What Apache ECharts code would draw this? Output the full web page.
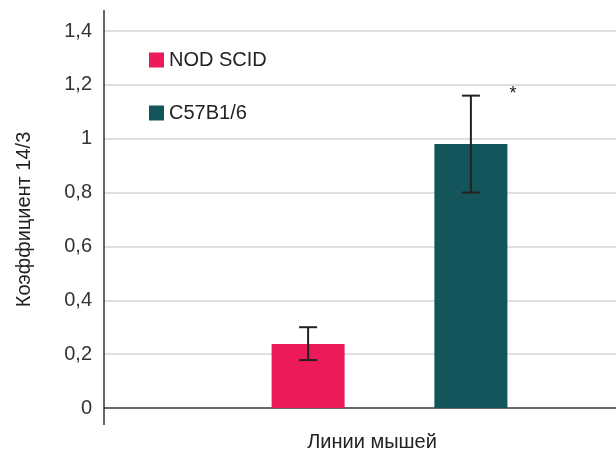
<!DOCTYPE html>
<html>
<head>
<meta charset="utf-8">
<script src="https://cdn.jsdelivr.net/npm/echarts@6/dist/echarts.min.js"></script>
<style>
  html, body { margin: 0; padding: 0; background: #fff; }
  #chart { width: 616px; height: 454px; }
</style>
</head>
<body>
<div id="chart"></div>
<script>
// данные
var seriesNames = ['NOD SCID', 'C57B1/6'];
var means = [0.238, 0.98];
var errLow = [0.178, 0.80];
var errHigh = [0.30, 1.16];
var marks = ['', '*'];
var yTicks = [0, 0.2, 0.4, 0.6, 0.8, 1, 1.2, 1.4];
var colors = ['#ec1a58', '#13555b'];

var FONT = '"Liberation Sans", Arial, Helvetica, sans-serif';
var FS = 20;
var BAR_W = 73;
var BAR_GAP = 1.23; // доля от ширины столбика

var chart = echarts.init(document.getElementById('chart'));

function fmt(v) {
  return String(v).replace('.', ',');
}

var series = seriesNames.map(function (name, i) {
  return {
    name: name,
    type: 'bar',
    data: [means[i]],
    barWidth: BAR_W,
    barGap: (BAR_GAP * 100) + '%',
    itemStyle: { color: colors[i] },
    z: 2
  };
});

// планки погрешностей
series.push({
  type: 'custom',
  name: 'err',
  data: means.map(function (m, i) { return [0, errLow[i], errHigh[i], i]; }),
  renderItem: function (params, api) {
    var i = api.value(3);
    var step = BAR_W * (1 + BAR_GAP);
    var off = (i - (means.length - 1) / 2) * step;
    var lo = api.coord([0, api.value(1)]);
    var hi = api.coord([0, api.value(2)]);
    var x = lo[0] + off;
    var cap = 9;
    var st = { stroke: '#222', lineWidth: 2 };
    var children = [
      { type: 'line', shape: { x1: x, y1: lo[1], x2: x, y2: hi[1] }, style: st },
      { type: 'line', shape: { x1: x - cap, y1: lo[1], x2: x + cap, y2: lo[1] }, style: st },
      { type: 'line', shape: { x1: x - cap, y1: hi[1], x2: x + cap, y2: hi[1] }, style: st }
    ];
    if (marks[i]) {
      children.push({
        type: 'text',
        style: {
          text: marks[i], x: x + 42, y: hi[1] - 2,
          fill: '#222', font: '18px ' + FONT,
          align: 'center', verticalAlign: 'middle'
        }
      });
    }
    return { type: 'group', children: children };
  },
  z: 5,
  silent: true
});

var option = {
  animation: false,
  backgroundColor: '#fff',
  textStyle: { fontFamily: FONT },
  grid: { left: 104, right: -59, top: 31, bottom: 46, outerBoundsMode: 'none' },
  legend: {
    data: seriesNames,
    orient: 'vertical',
    left: 144,
    top: 45,
    itemWidth: 15,
    itemHeight: 15,
    itemGap: 33,
    icon: 'rect',
    textStyle: { fontSize: FS, color: '#222', fontFamily: FONT }
  },
  xAxis: {
    type: 'category',
    data: [''],
    name: 'Линии мышей',
    nameLocation: 'middle',
    nameGap: 24,
    nameTextStyle: { fontSize: FS, color: '#222', fontFamily: FONT, padding: [0, 35, 0, 0] },
    axisLine: { lineStyle: { color: '#444', width: 1.5 } },
    axisTick: { show: false },
    axisLabel: { show: false }
  },
  yAxis: {
    type: 'value',
    min: yTicks[0],
    max: yTicks[yTicks.length - 1],
    interval: 0.2,
    name: 'Коэффициент 14/3',
    nameLocation: 'middle',
    nameGap: 70,
    nameTextStyle: { fontSize: FS, color: '#222', fontFamily: FONT },
    axisLine: { show: false },
    axisTick: { show: false },
    axisLabel: {
      fontSize: FS, color: '#333', margin: 12, fontFamily: FONT,
      formatter: function (v) { return fmt(Math.round(v * 10) / 10); }
    },
    splitLine: { lineStyle: { color: '#d4d4d4', width: 1.5 } }
  },
  series: series
};

chart.setOption(option);

// вертикальная ось выходит за пределы сетки сверху и снизу
var p0 = chart.convertToPixel({ gridIndex: 0 }, [0, yTicks[0]]);
var pTop = chart.convertToPixel({ gridIndex: 0 }, [0, yTicks[yTicks.length - 1]]);
var axisX = 104;
chart.setOption({
  graphic: [{
    type: 'line',
    shape: { x1: axisX, y1: pTop[1] - 21, x2: axisX, y2: p0[1] + 17 },
    style: { stroke: '#333', lineWidth: 1.5 },
    z: 10
  }]
});
</script>
</body>
</html>
